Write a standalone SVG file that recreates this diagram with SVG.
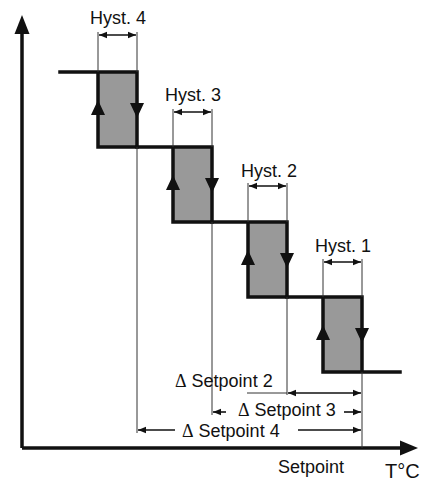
<svg xmlns="http://www.w3.org/2000/svg" width="429" height="485" viewBox="0 0 429 485">
<style>
.thick{stroke:#111;stroke-width:3.5;fill:none;stroke-linecap:square}
.thin{stroke:#333;stroke-width:1;fill:none}
.dim{stroke:#111;stroke-width:1.6;fill:none}
.box{fill:#999;stroke:none}
.head{fill:#111}
text{font-family:"Liberation Sans",Arial,sans-serif;font-size:18px;fill:#111}
.sym{font-family:"Liberation Serif","Times New Roman",serif}
</style>
<defs>
<marker id="ah" viewBox="0 0 8 8" refX="8" refY="4" markerWidth="8" markerHeight="8" markerUnits="userSpaceOnUse" orient="auto-start-reverse">
<path d="M0,0.8 L8,4 L0,7.2 Z" fill="#111"/>
</marker>
</defs>
<rect width="429" height="485" fill="#fff"/>
<g id="axes">
<line class="thick" x1="22" y1="30" x2="22" y2="448" style="stroke-linecap:butt"/>
<polygon class="head" points="22,15 14.5,34 29.5,34"/>
<line class="thick" x1="22" y1="448" x2="402" y2="448" style="stroke-linecap:butt"/>
<polygon class="head" points="418,448 400,440.5 400,455.5"/>
</g>
<g id="loop4">
<rect class="box" x="98" y="72" width="39" height="75"/>
<path class="thick" d="M60,72 H137 V147 H98 V72"/>
<polygon class="head" points="98,100 91,115 105,115"/>
<polygon class="head" points="137,118 130,103 144,103"/>
</g>
<g id="loop3">
<rect class="box" x="173" y="147" width="39" height="75"/>
<path class="thick" d="M137,147 H212 V222 H173 V147"/>
<polygon class="head" points="173,175 166,190 180,190"/>
<polygon class="head" points="212,193 205,178 219,178"/>
</g>
<g id="loop2">
<rect class="box" x="248" y="222" width="39" height="75"/>
<path class="thick" d="M212,222 H287 V297 H248 V222"/>
<polygon class="head" points="248,250 241,265 255,265"/>
<polygon class="head" points="287,268 280,253 294,253"/>
</g>
<g id="loop1">
<rect class="box" x="323" y="297" width="39" height="75"/>
<path class="thick" d="M287,297 H362 V372 H323 V297 M362,372 H400"/>
<polygon class="head" points="323,325 316,340 330,340"/>
<polygon class="head" points="362,343 355,328 369,328"/>
</g>
<g id="connectors">
<path class="thin" d="M98,32 V72 M137,32 V72 M137,147 V433"/>
<line class="dim" x1="99" y1="35" x2="136" y2="35" marker-start="url(#ah)" marker-end="url(#ah)"/>
<path class="thin" d="M173,109 V147 M212,109 V147 M212,222 V415"/>
<line class="dim" x1="174" y1="112" x2="211" y2="112" marker-start="url(#ah)" marker-end="url(#ah)"/>
<path class="thin" d="M248,183 V222 M287,183 V222 M287,297 V395"/>
<line class="dim" x1="249" y1="186" x2="286" y2="186" marker-start="url(#ah)" marker-end="url(#ah)"/>
<path class="thin" d="M323,259 V297 M362,259 V297 M362,372 V448"/>
<line class="dim" x1="324" y1="262" x2="361" y2="262" marker-start="url(#ah)" marker-end="url(#ah)"/>
<line class="thin" x1="247" y1="393" x2="287" y2="393"/>
<line class="dim" x1="288" y1="393" x2="361" y2="393" marker-start="url(#ah)" marker-end="url(#ah)"/>
<line class="dim" x1="213" y1="412" x2="226" y2="412" marker-start="url(#ah)"/>
<line class="dim" x1="344" y1="412" x2="361" y2="412" marker-end="url(#ah)"/>
<line class="dim" x1="138" y1="430" x2="175" y2="430" marker-start="url(#ah)"/>
<line class="dim" x1="298" y1="430" x2="361" y2="430" marker-end="url(#ah)"/>
</g>
<g id="labels">
<text x="118" y="24" text-anchor="middle">Hyst. 4</text>
<text x="193" y="101" text-anchor="middle">Hyst. 3</text>
<text x="269" y="177" text-anchor="middle">Hyst. 2</text>
<text x="343" y="252" text-anchor="middle">Hyst. 1</text>
<text x="175" y="387"><tspan class="sym">Δ</tspan> Setpoint 2</text>
<text x="238" y="416"><tspan class="sym">Δ</tspan> Setpoint 3</text>
<text x="182" y="437"><tspan class="sym">Δ</tspan> Setpoint 4</text>
<text x="311" y="473" text-anchor="middle">Setpoint</text>
<text x="385" y="478" style="font-size:20px">T°C</text>
</g>
</svg>
